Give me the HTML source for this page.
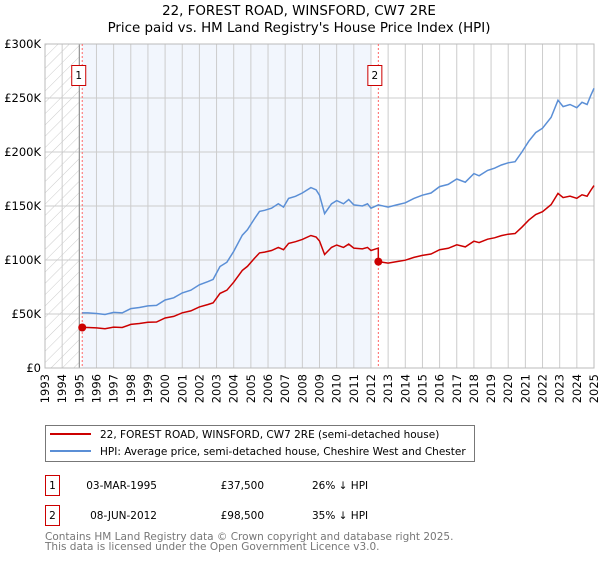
<!DOCTYPE html>
<html><head><meta charset="utf-8"><style>
body{margin:0;background:#fff;}
svg text{font-family:"DejaVu Sans","Liberation Sans",sans-serif;}
</style></head><body>
<svg id="chart" width="600" height="560" xmlns="http://www.w3.org/2000/svg">
<defs>
<pattern id="hatch" patternUnits="userSpaceOnUse" width="8" height="8" patternTransform="rotate(45)">
<line x1="0" y1="0" x2="0" y2="8" stroke="#cccccc" stroke-width="1"/>
</pattern>
</defs>
<text x="299" y="15" text-anchor="middle" font-size="13.4">22, FOREST ROAD, WINSFORD, CW7 2RE</text>
<text x="299" y="32" text-anchor="middle" font-size="13.4">Price paid vs. HM Land Registry's House Price Index (HPI)</text>
<g id="plot"></g>
<g>
<rect x="45.5" y="425.5" width="429" height="36" fill="#fff" stroke="#777"/>
<line x1="50" y1="434" x2="91" y2="434" stroke="#cc0000" stroke-width="2"/>
<text x="100" y="438" font-size="10.5">22, FOREST ROAD, WINSFORD, CW7 2RE (semi-detached house)</text>
<line x1="50" y1="451" x2="91" y2="451" stroke="#5b8fd6" stroke-width="2"/>
<text x="100" y="455" font-size="10.5">HPI: Average price, semi-detached house, Cheshire West and Chester</text>
</g>
<g font-size="10.5">
<rect x="45.5" y="475.5" width="14" height="20" fill="none" stroke="#cc0000"/>
<text x="52.5" y="489" text-anchor="middle">1</text>
<text x="157" y="489" text-anchor="end">03-MAR-1995</text>
<text x="264" y="489" text-anchor="end">£37,500</text>
<text x="312" y="489">26% ↓ HPI</text>
<rect x="45.5" y="505.5" width="14" height="20" fill="none" stroke="#cc0000"/>
<text x="52.5" y="519" text-anchor="middle">2</text>
<text x="157" y="519" text-anchor="end">08-JUN-2012</text>
<text x="264" y="519" text-anchor="end">£98,500</text>
<text x="312" y="519">35% ↓ HPI</text>
</g>
<text x="45" y="540" font-size="10.5" fill="#777">Contains HM Land Registry data © Crown copyright and database right 2025.</text>
<text x="45" y="550" font-size="10.5" fill="#777">This data is licensed under the Open Government Licence v3.0.</text>
</svg>
<script>
const yTicks=[0,50,100,150,200,250,300];
const yTickLabels=["£0","£50K","£100K","£150K","£200K","£250K","£300K"];
const xTicks=[1993,1994,1995,1996,1997,1998,1999,2000,2001,2002,2003,2004,2005,2006,2007,2008,2009,2010,2011,2012,2013,2014,2015,2016,2017,2018,2019,2020,2021,2022,2023,2024,2025];
const hpiYears=[1995.17,1995.5,1996.0,1996.5,1997.0,1997.5,1998.0,1998.5,1999.0,1999.5,2000.0,2000.5,2001.0,2001.5,2002.0,2002.5,2002.8,2003.2,2003.6,2004.0,2004.5,2004.8,2005.2,2005.5,2005.8,2006.2,2006.6,2006.9,2007.2,2007.6,2008.0,2008.5,2008.8,2009.0,2009.3,2009.7,2010.0,2010.4,2010.7,2011.0,2011.5,2011.8,2012.0,2012.43,2013.0,2013.5,2014.0,2014.5,2015.0,2015.5,2016.0,2016.5,2017.0,2017.5,2018.0,2018.3,2018.8,2019.2,2019.6,2020.0,2020.4,2020.8,2021.2,2021.6,2022.0,2022.5,2022.9,2023.2,2023.6,2024.0,2024.3,2024.6,2024.8,2025.0];
const hpiValues=[51,51,50.5,49.5,51.5,51,55,56,57.5,58,63,65,69.5,72,77,80,82,94,98,108,123,128,138,145,146,148,152,149,157,159,162,167,165,160,143,152,155,152,156,151,150,152,148,151,149,151,153,157,160,162,168,170,175,172,180,178,183,185,188,190,191,200,210,218,222,232,248,242,244,241,246,244,252,259];
const priceYears=[1995.17,1995.5,1996.0,1996.5,1997.0,1997.5,1998.0,1998.5,1999.0,1999.5,2000.0,2000.5,2001.0,2001.5,2002.0,2002.5,2002.8,2003.2,2003.6,2004.0,2004.5,2004.8,2005.2,2005.5,2005.8,2006.2,2006.6,2006.9,2007.2,2007.6,2008.0,2008.5,2008.8,2009.0,2009.3,2009.7,2010.0,2010.4,2010.7,2011.0,2011.5,2011.8,2012.0,2012.43,2012.43,2013.0,2013.5,2014.0,2014.5,2015.0,2015.5,2016.0,2016.5,2017.0,2017.5,2018.0,2018.3,2018.8,2019.2,2019.6,2020.0,2020.4,2020.8,2021.2,2021.6,2022.0,2022.5,2022.9,2023.2,2023.6,2024.0,2024.3,2024.6,2024.8,2025.0];
const priceValues=[37.5,37.5,37.1,36.4,37.9,37.5,40.4,41.2,42.3,42.6,46.3,47.8,51.1,52.9,56.6,58.8,60.3,69.1,72.0,79.4,90.4,94.1,101.4,106.6,107.3,108.8,111.7,109.5,115.4,116.9,119.1,122.7,121.3,117.6,105.1,111.7,113.9,111.7,114.7,111.0,110.3,111.7,108.8,111.0,98.5,97.1,98.5,99.8,102.4,104.3,105.6,109.5,110.8,114.1,112.1,117.4,116.1,119.3,120.6,122.6,123.9,124.5,130.4,136.9,142.1,144.7,151.3,161.7,157.8,159.1,157.1,160.4,159.1,164.3,168.9];
const saleYears=[1995.17,2012.43];
const saleValues=[37.5,98.5];
const saleLabels=["1","2"];

const X0=45,X1=594,Y0=368,Y1=44;
const xs=y=>X0+(y-1993)/(2025-1993)*(X1-X0);
const ys=v=>Y0-v/300*(Y0-Y1);
const NS="http://www.w3.org/2000/svg";
const g=document.getElementById('plot');
function mk(tag,attrs,parent){const e=document.createElementNS(NS,tag);for(const k in attrs)e.setAttribute(k,attrs[k]);(parent||g).appendChild(e);return e;}

let e=mk('rect',{x:xs(1995.17),y:Y1,width:xs(2012)-xs(1995.17),height:Y0-Y1,fill:'#f2f6fd'});


e=mk('rect',{x:X0,y:Y1,width:xs(1995)-X0,height:Y0-Y1,fill:'url(#hatch)'});


xTicks.forEach(t=>{
  const l=mk('line',{x1:xs(t),x2:xs(t),y1:Y1,y2:Y0,stroke:'#cccccc','stroke-width':1});
  
  
  const tx=mk('text',{x:0,y:0,'font-size':'11.5','text-anchor':'end',transform:`translate(${xs(t)+4},${Y0+6}) rotate(-90)`});
  tx.textContent=t;
  
  
});
yTicks.forEach((t,i)=>{
  const l=mk('line',{x1:X0,x2:X1,y1:ys(t),y2:ys(t),stroke:'#cccccc','stroke-width':1});
  
  
  const tx=mk('text',{x:X0-4,y:ys(t)+4,'font-size':'11.5','text-anchor':'end'});
  tx.textContent=yTickLabels[i];
  
  
});
e=mk('line',{x1:xs(1995),x2:xs(1995),y1:Y1,y2:Y0,stroke:'#888','stroke-width':1});


e=mk('rect',{x:X0,y:Y1,width:X1-X0,height:Y0-Y1,fill:'none',stroke:'#bbbbbb'});


saleYears.forEach((yr,i)=>{
  const l=mk('line',{x1:xs(yr),x2:xs(yr),y1:Y1,y2:Y0,stroke:'#ff6666','stroke-width':1,'stroke-dasharray':'2,2'});
  
  
});
function path(xv,yv){return xv.map((x,i)=>(i?'L':'M')+xs(x).toFixed(1)+','+ys(yv[i]).toFixed(1)).join('');}
e=mk('path',{d:path(hpiYears,hpiValues),fill:'none',stroke:'#5b8fd6','stroke-width':1.5});


e=mk('path',{d:path(priceYears,priceValues),fill:'none',stroke:'#cc0000','stroke-width':1.5});


saleYears.forEach((yr,i)=>{
  const c=mk('circle',{cx:xs(yr),cy:ys(saleValues[i]),r:4,fill:'#cc0000'});
  
  
  const b=mk('rect',{x:xs(yr)-10.5,y:65.5,width:14,height:20,fill:'#fff',stroke:'#cc0000'});
  
  
  const t=mk('text',{x:xs(yr)-3.5,y:79,'font-size':'10.5','text-anchor':'middle'});
  t.textContent=saleLabels[i];
  
  
});
</script>
</body></html>
